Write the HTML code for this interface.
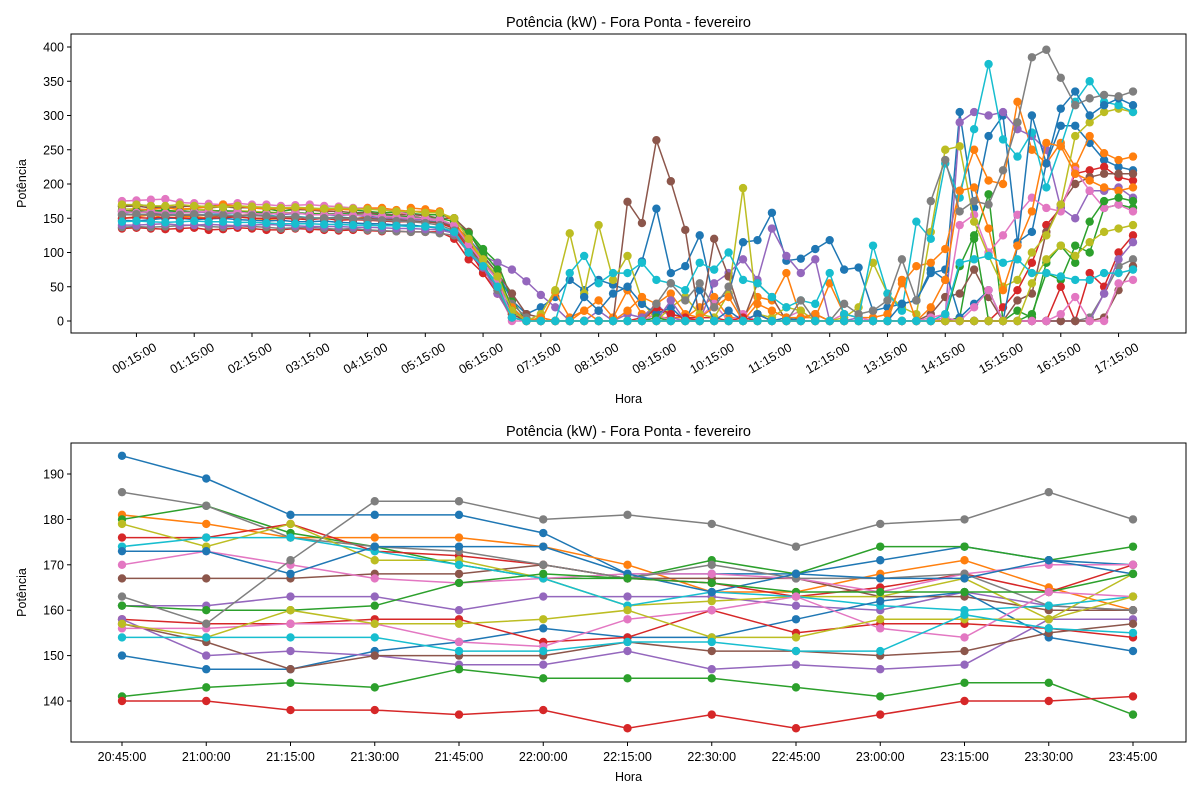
<!DOCTYPE html>
<html><head><meta charset="utf-8"><style>
body{margin:0;background:#fff;}
svg{display:block;font-family:"Liberation Sans","DejaVu Sans",sans-serif;}
</style></head><body>
<svg id="chart" width="1200" height="800" viewBox="0 0 1200 800" xmlns="http://www.w3.org/2000/svg"></svg>
<script>
const colors=["#1f77b4","#ff7f0e","#2ca02c","#d62728","#9467bd","#8c564b","#e377c2","#7f7f7f","#bcbd22","#17becf"];
const topTickLabels=["00:15:00","01:15:00","02:15:00","03:15:00","04:15:00","05:15:00","06:15:00","07:15:00","08:15:00","09:15:00","10:15:00","11:15:00","12:15:00","13:15:00","14:15:00","15:15:00","16:15:00","17:15:00"];
const topYTicks=[0,50,100,150,200,250,300,350,400];
const s0=[160,162,158,160,161,159,160,158,160,157,158,156,158,157,155,156,155,154,153,152,150,150,148,140,120,95,70,30,10,20,35,60,45,60,53,45,87,164,70,80,125,30,40,115,118,158,88,91,105,118,75,78,15,20,25,30,75,60,305,165,270,300,115,130,230,285,285,260,235,225,220];
const s1=[150,152,155,150,152,153,150,155,152,150,148,150,152,150,151,150,149,152,150,151,165,163,160,145,110,80,45,10,0,0,42,5,15,30,5,45,10,5,5,5,20,35,5,5,35,30,70,5,5,55,10,5,5,10,55,80,85,105,190,250,205,200,320,250,230,260,225,270,245,235,240];
const s2=[168,170,168,165,167,168,167,170,166,165,164,160,163,162,165,164,162,160,158,159,157,155,155,150,130,105,85,30,0,0,0,0,0,0,0,0,0,0,0,0,0,0,0,0,0,0,0,0,0,0,0,0,0,0,0,0,0,0,5,120,185,0,0,10,70,60,110,100,165,170,165];
const s3=[135,136,135,134,135,136,133,134,136,135,133,133,135,134,133,132,133,132,131,131,130,130,130,120,90,70,40,10,0,0,0,0,0,0,0,0,5,15,10,5,5,5,0,0,10,0,0,0,0,0,0,0,0,0,0,0,0,0,0,0,0,20,45,85,140,165,215,220,225,210,205];
const s4=[157,160,158,157,160,158,159,157,158,160,158,155,157,156,155,154,155,152,150,150,148,148,146,140,115,95,85,75,58,38,20,0,0,15,0,10,5,25,5,0,0,55,70,90,60,135,95,70,90,0,0,5,0,0,0,0,0,5,290,305,300,305,280,270,250,165,150,190,190,195,180];
const s5=[167,168,165,166,167,168,165,167,165,166,164,165,163,162,160,160,158,158,156,155,155,154,150,150,130,95,70,40,10,5,0,0,0,0,0,174,143,264,204,133,0,120,65,0,55,35,0,5,10,0,0,0,0,0,0,0,10,35,40,75,35,0,30,40,130,170,200,210,215,215,215];
const s6=[175,176,177,178,173,172,171,170,172,170,170,168,169,170,168,167,165,165,163,160,155,150,145,135,110,80,45,0,0,0,0,0,0,0,0,0,0,10,0,0,5,25,0,10,0,0,5,15,0,0,10,5,0,0,0,0,5,10,140,155,100,125,155,180,165,160,220,190,165,170,160];
const s7=[137,138,137,138,139,140,138,137,139,138,137,135,136,137,135,134,135,133,132,131,130,130,128,125,100,90,60,25,5,0,0,0,0,0,0,0,0,0,0,0,0,0,0,0,0,0,0,0,0,0,0,0,0,0,0,0,0,0,0,0,0,0,0,0,0,0,0,5,40,80,90];
const s8=[163,164,162,160,162,163,162,160,161,160,159,158,158,157,157,155,156,155,154,153,152,150,148,140,115,90,65,20,0,10,45,128,40,140,60,95,30,0,20,35,10,5,40,194,10,5,20,15,0,0,5,20,85,40,20,10,130,250,255,145,95,50,60,100,125,170,270,290,305,310,305];
const s9=[155,156,155,157,155,154,156,155,154,153,155,152,153,151,150,152,150,149,148,147,146,145,145,135,105,80,55,20,0,0,0,70,95,55,70,70,85,60,55,45,85,75,100,60,55,35,20,30,25,70,10,5,110,40,15,145,120,230,180,280,375,265,240,275,195,255,320,350,320,315,305];
const s10=[147,146,148,150,150,148,149,150,148,147,146,147,145,145,146,144,143,142,142,140,140,138,135,130,100,75,50,15,0,0,0,0,35,15,40,50,25,10,20,0,45,0,15,0,10,0,5,0,0,0,0,0,0,0,25,30,70,75,5,25,45,0,110,300,230,310,335,300,315,325,315];
const s11=[160,162,163,165,163,165,166,170,168,165,164,164,165,163,162,163,162,165,165,162,160,160,160,145,115,85,60,20,0,5,0,0,15,0,0,15,35,25,40,10,5,20,35,0,25,15,5,5,10,0,0,0,0,0,60,0,20,60,190,195,135,45,110,160,260,255,215,205,195,190,195];
const s12=[161,160,160,162,159,160,160,161,160,158,158,157,158,157,156,157,156,155,155,153,152,150,150,145,128,100,75,15,0,0,0,0,0,0,0,0,0,5,0,0,0,0,0,0,0,0,0,0,0,0,0,0,0,0,0,0,0,5,80,125,0,0,15,5,85,110,85,145,175,180,175];
const s13=[150,151,150,152,150,150,150,151,152,150,150,150,149,148,150,147,148,147,146,145,145,145,143,135,105,70,40,5,0,0,0,0,0,0,0,0,0,20,10,5,0,0,0,5,0,0,0,0,0,0,0,0,0,0,0,0,0,0,0,0,0,0,0,0,0,50,0,70,50,100,125];
const s14=[140,140,141,142,140,140,141,140,139,140,141,140,139,138,138,138,137,137,136,135,135,134,133,128,100,78,40,5,0,0,0,0,0,0,0,0,0,0,30,0,0,0,0,0,0,0,0,0,0,0,0,0,0,0,0,0,0,0,0,0,0,0,0,0,0,0,0,0,40,90,115];
const s15=[155,155,156,155,154,155,154,153,154,155,153,152,152,150,150,151,150,150,148,148,146,145,144,138,110,80,50,10,0,0,0,0,0,0,0,0,0,0,0,0,0,0,0,0,0,0,0,0,0,0,0,0,0,0,0,0,0,0,0,0,0,0,0,0,0,0,0,0,5,45,80];
const s16=[160,158,160,157,158,159,160,158,159,157,156,157,158,155,155,156,154,155,153,152,150,150,148,140,112,85,60,5,0,0,0,0,0,0,0,0,0,0,0,0,0,0,0,0,0,0,0,0,0,0,0,0,0,0,0,0,0,5,0,20,45,0,0,0,0,10,35,0,0,55,60];
const s17=[155,156,155,154,155,156,154,155,153,154,153,152,152,150,150,150,149,148,147,146,145,143,140,132,100,85,45,5,0,0,0,0,0,0,0,0,0,25,55,30,55,20,50,0,0,0,0,30,0,0,25,10,15,30,90,30,175,235,160,175,170,220,290,385,396,355,315,325,330,328,335];
const s18=[170,170,168,168,170,168,167,166,168,167,166,165,166,165,164,165,164,163,162,160,160,158,158,150,120,90,65,15,0,0,0,0,0,0,0,0,0,0,0,0,0,0,0,0,0,0,0,0,0,0,0,0,0,0,0,0,0,0,0,0,0,0,0,55,90,110,95,115,130,135,140];
const s19=[145,146,145,144,145,146,145,145,144,144,143,142,142,142,141,141,140,140,139,139,138,138,137,130,100,80,50,5,0,0,0,0,0,0,0,0,0,0,0,0,0,0,0,0,0,0,0,0,0,0,0,0,0,0,0,0,0,10,85,90,95,85,90,70,70,65,60,60,70,70,75];
const topSeries=[s0,s1,s2,s3,s4,s5,s6,s7,s8,s9,s10,s11,s12,s13,s14,s15,s16,s17,s18,s19];

const botCats=["20:45:00","21:00:00","21:15:00","21:30:00","21:45:00","22:00:00","22:15:00","22:30:00","22:45:00","23:00:00","23:15:00","23:30:00","23:45:00"];
const botYTicks=[140,150,160,170,180,190];
const b0=[194,189,181,181,181,177,168,168,168,171,174,171,170];
const b1=[181,179,176,176,176,174,170,164,164,168,171,165,160];
const b2=[180,183,177,174,170,167,167,171,168,174,174,171,174];
const b3=[176,176,179,173,172,170,167,166,163,165,168,164,170];
const b4=[161,161,163,163,160,163,163,163,161,160,164,161,160];
const b5=[167,167,167,168,168,170,167,167,167,163,163,160,160];
const b6=[170,173,170,167,166,167,168,168,167,164,168,170,170];
const b7=[186,183,176,174,173,170,167,170,167,167,168,161,160];
const b8=[179,174,179,171,171,167,161,162,163,163,167,158,168];
const b9=[174,176,176,173,170,167,161,164,163,161,160,161,163];
const b10=[150,147,147,151,153,156,154,154,158,162,164,154,151];
const b11=[173,173,168,174,174,174,168,164,168,167,167,171,168];
const b12=[161,160,160,161,166,168,167,166,164,164,164,164,168];
const b13=[158,157,157,158,158,153,154,160,155,157,157,156,154];
const b14=[158,150,151,150,148,148,151,147,148,147,148,158,158];
const b15=[157,153,147,150,150,150,153,151,151,150,151,155,157];
const b16=[156,156,157,157,153,152,158,160,163,156,154,164,163];
const b17=[163,157,171,184,184,180,181,179,174,179,180,186,180];
const b18=[157,154,160,157,157,158,160,154,154,158,158,158,163];
const b19=[154,154,154,154,151,151,153,153,151,151,159,156,155];
const b20=[141,143,144,143,147,145,145,145,143,141,144,144,137];
const b21=[140,140,138,138,137,138,134,137,134,137,140,140,141];
const botSeries=[b0,b1,b2,b3,b4,b5,b6,b7,b8,b9,b10,b11,b12,b13,b14,b15,b16,b17,b18,b19,b20,b21];
const botColors=[0,1,2,3,4,5,6,7,8,9,0,0,2,3,4,5,6,7,8,9,2,3];

const NS="http://www.w3.org/2000/svg";
const svg=document.getElementById('chart');
function mk(tag,attrs,parent){const e=document.createElementNS(NS,tag);for(const k in attrs)e.setAttribute(k,attrs[k]);(parent||svg).appendChild(e);return e;}

function drawAxes(box,title,yTicks,yFn,name,xTitleY){
  const g=mk('g',{});
  
  
  const t=mk('text',{x:(box.l+box.r)/2,y:box.t-7,'text-anchor':'middle','font-size':14.5,fill:'#000'},g);
  t.textContent=title;
  
  
  yTicks.forEach(v=>{const y=yFn(v);
    mk('line',{x1:box.l-4,x2:box.l,y1:y,y2:y,stroke:'#000','stroke-width':1},g);
    const tx=mk('text',{x:box.l-7,y:y+4.5,'text-anchor':'end','font-size':12.5},g);tx.textContent=v;
    
    
  });
  const yl=mk('text',{x:0,y:0,transform:`translate(26,${(box.t+box.b)/2}) rotate(-90)`,'text-anchor':'middle','font-size':12.5},g);
  yl.textContent='Potência';
  
  
  const xl=mk('text',{x:(box.l+box.r)/2,y:xTitleY,'text-anchor':'middle','font-size':12.5},g);
  xl.textContent='Hora';
  
  
  return g;
}
function drawSeries(data,xFn,yFn,color,name){
  const g=mk('g',{});
  
  
  const pts=data.map((v,i)=>xFn(i).toFixed(1)+','+yFn(v).toFixed(1)).join(' ');
  mk('polyline',{points:pts,fill:'none',stroke:color,'stroke-width':1.5},g);
  data.forEach((v,i)=>{mk('circle',{cx:xFn(i),cy:yFn(v),r:4.2,fill:color},g);});
}

// top chart
const TB={l:71,r:1186,t:34,b:333};
const tx=i=>122+i*(1133-122)/70;
const ty=v=>321-v*(321-47)/400;
drawAxes(TB,'Potência (kW) - Fora Ponta - fevereiro',topYTicks,ty,'top-axes',403);
topSeries.forEach((s,k)=>drawSeries(s,tx,ty,colors[k%10],'top-series-'+k));
topTickLabels.forEach((lab,j)=>{const x=tx(1+4*j);
  mk('line',{x1:x,x2:x,y1:TB.b,y2:TB.b+4,stroke:'#000'});
  const t=mk('text',{x:0,y:0,transform:`translate(${x},${TB.b+29}) rotate(-30)`,'text-anchor':'middle','font-size':12.5});
  t.textContent=lab;
  
  
});
mk('rect',{x:TB.l,y:TB.t,width:TB.r-TB.l,height:TB.b-TB.t,fill:'none',stroke:'#000','stroke-width':1});

// bottom chart
const BB={l:71,r:1186,t:443,b:742};
const bx=i=>122+i*(1133-122)/12;
const by=v=>701-(v-140)*(701-474)/50;
drawAxes(BB,'Potência (kW) - Fora Ponta - fevereiro',botYTicks,by,'bottom-axes',781);
botSeries.forEach((s,k)=>drawSeries(s,bx,by,colors[botColors[k]],'bottom-series-'+k));
botCats.forEach((lab,i)=>{const x=bx(i);
  mk('line',{x1:x,x2:x,y1:BB.b,y2:BB.b+4,stroke:'#000'});
  const t=mk('text',{x:x,y:BB.b+19,'text-anchor':'middle','font-size':12.5});
  t.textContent=lab;
  
  
});
mk('rect',{x:BB.l,y:BB.t,width:BB.r-BB.l,height:BB.b-BB.t,fill:'none',stroke:'#000','stroke-width':1});
</script>
</body></html>
